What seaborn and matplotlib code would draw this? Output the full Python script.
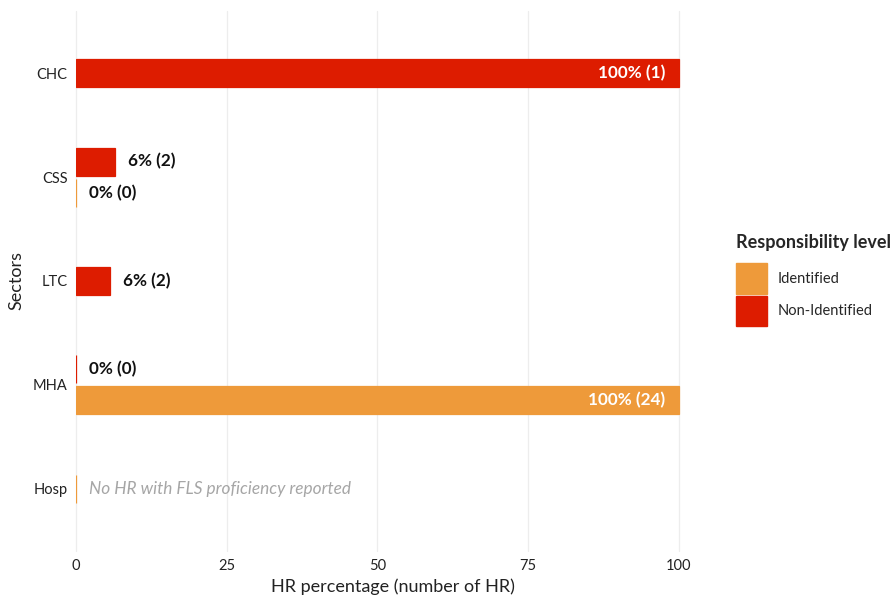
import numpy as np
import pandas as pd
import matplotlib
matplotlib.use("Agg")
import matplotlib.pyplot as plt
from matplotlib.patches import Patch
import seaborn as sns

# data
sectors = ["CHC", "CSS", "LTC", "MHA", "Hosp"]
levels = ["Identified", "Non-Identified"]
identified_pct = [np.nan, 0.0, np.nan, 100.0, 0.0]
identified_n = [np.nan, 0, np.nan, 24, np.nan]
non_identified_pct = [100.0, 6.45, 5.56, 0.0, np.nan]
non_identified_n = [1, 2, 2, 0, np.nan]
no_data_sector = "Hosp"
no_data_text = "No HR with FLS proficiency reported"

colors = {"Identified": "#EE9A3A", "Non-Identified": "#DD1C00"}

df = pd.DataFrame({
    "sector": sectors * 2,
    "level": ["Identified"] * len(sectors) + ["Non-Identified"] * len(sectors),
    "pct": identified_pct + non_identified_pct,
    "n": identified_n + non_identified_n,
}).dropna(subset=["pct"])

sns.set_theme(style="white")
plt.rcParams["font.family"] = ["Lato", "DejaVu Sans"]

fig = plt.figure(figsize=(8.96, 5.95), dpi=100)
ax = fig.add_axes([0.0848, 0.074, 0.7065, 0.9075])

bar_h = 0.27
dodge = 0.15
for i, sec in enumerate(sectors):
    sub = df[df["sector"] == sec]
    present = list(sub["level"])
    for _, row in sub.iterrows():
        if len(present) == 2:
            y = i - dodge if row["level"] == "Non-Identified" else i + dodge
        else:
            y = i
        col = colors[row["level"]]
        ax.barh(y, row["pct"], height=bar_h, color=col, edgecolor=col,
                linewidth=0.9, zorder=3)
        if sec == no_data_sector:
            ax.text(2.2, y, no_data_text, va="center", ha="left", fontsize=12.4,
                    style="italic", color="#A6A6A6", zorder=4)
            continue
        label = f"{round(row['pct'])}% ({int(row['n'])})"
        if row["pct"] > 50:
            ax.text(row["pct"] - 2.2, y, label, va="center", ha="right",
                    fontsize=12.3, fontweight="bold", color="white", zorder=4)
        else:
            ax.text(row["pct"] + 2.2, y, label, va="center", ha="left",
                    fontsize=12.3, fontweight="bold", color="#111111", zorder=4)

ax.set_xlim(0, 105)
ax.set_ylim(len(sectors) - 0.4, -0.6)
ax.set_yticks(range(len(sectors)))
ax.set_yticklabels(sectors)
ax.set_xticks([0, 25, 50, 75, 100])
ax.tick_params(axis="both", length=0, labelsize=10.5, colors="#222222", pad=6)
ax.grid(axis="x", color="#EDEDED", linewidth=0.9, zorder=0)
for line in ax.get_xgridlines():
    line.set_clip_on(False)
sns.despine(ax=ax, left=True, bottom=True)

ax.set_xlabel("HR percentage (number of HR)", fontsize=13, color="#222222", labelpad=4)
ax.set_ylabel("Sectors", fontsize=13, color="#222222", labelpad=6)

handles = [Patch(facecolor=colors[l], edgecolor=colors[l]) for l in levels]
leg = fig.legend(handles, levels, title="Responsibility level",
                 loc="upper left", bbox_to_anchor=(736 / 896, 1 - 234 / 595),
                 frameon=False, fontsize=10.5, title_fontsize=13,
                 handlelength=2.1, handleheight=2.8, labelspacing=0.15,
                 handletextpad=0.75, borderpad=0, borderaxespad=0,
                 alignment="left")
leg.get_title().set_fontweight("bold")
leg._legend_box.sep = 9

fig.savefig("out.png", dpi=100)
